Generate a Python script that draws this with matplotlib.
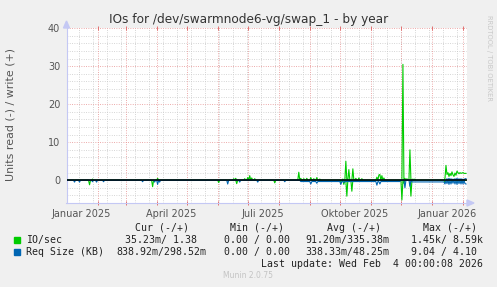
import numpy as np
import matplotlib
matplotlib.use("Agg")
import matplotlib.pyplot as plt
from matplotlib.patches import Rectangle, Polygon

# ---------------- data (day offsets from 2025-01-01) ----------------
start = np.datetime64('2025-01-01')
n_days = 400

# IO/sec write (+)
io_write_days = [26, 91, 167, 169, 178, 181, 183, 185, 188, 232, 234, 237, 240, 244, 247, 250, 253,
                 276, 279, 282, 286, 289, 292, 295, 310, 312, 313, 315, 317, 336, 338, 340, 343, 346, 348,
                 378, 379, 380, 381, 382, 383, 384, 385, 386, 387, 388, 389, 390, 391, 392, 393, 394, 395,
                 396, 397, 398, 399]
io_write_vals = [0.3, 0.5, 0.4, 0.5, 0.4, 0.7, 1.2, 0.6, 0.4, 2.1, 0.5, 0.4, 0.5, 0.7, 0.4, 0.7, 0.3,
                 0.3, 5.0, 2.8, 3.0, 0.5, 0.6, 0.4, 0.8, 1.4, 1.5, 1.2, 0.6, 30.5, 0.5, 0.4, 8.0, 0.3, 0.3,
                 0.5, 3.9, 1.5, 2.0, 1.0, 1.8, 1.2, 2.2, 1.4, 1.0, 1.9, 1.3, 2.4, 2.0, 1.7, 2.0, 1.8, 1.9,
                 2.0, 1.8, 1.8, 1.8]
# IO/sec read (-)
io_read_days = [23, 86, 152, 170, 208, 274, 277, 280, 285, 290, 335, 337, 344, 378, 381, 385, 390, 395]
io_read_vals = [1.2, 1.7, 0.6, 0.9, 0.7, 0.5, 1.1, 4.2, 2.9, 0.3, 5.2, 0.8, 4.2, 0.6, 0.3, 0.3, 0.3, 0.3]

# Req Size write (+)
req_write_days = [380, 382, 384, 386, 388, 390, 392, 394, 396, 398, 399]
req_write_vals = [0.4, 0.5, 0.4, 0.3, 0.4, 0.5, 0.4, 0.4, 0.3, 0.4, 0.4]
# Req Size read (-): individual days
req_read_days = [8, 13, 26, 30, 37, 76, 88, 91, 93, 161, 173, 191, 218,
                 244, 250, 274, 277, 310, 313, 338, 343,
                 378, 380, 382, 384, 386, 388, 390, 392, 394, 396, 398, 399]
req_read_vals = [0.5, 0.5, 0.4, 0.5, 0.4, 0.4, 0.5, 1.1, 0.5, 1.0, 0.5, 0.5, 0.4,
                 1.0, 0.8, 1.1, 0.6, 1.3, 1.0, 2.0, 1.6,
                 1.0, 0.9, 1.1, 1.0, 0.8, 1.0, 1.1, 0.9, 1.0, 1.0, 0.9, 1.0]
# Req Size read (-): steady levels (first day, last day, level)
req_read_level_first = [234, 345]
req_read_level_last = [333, 377]
req_read_level_vals = [0.35, 0.45]

y_ticks = [0, 10, 20, 30, 40]
x_labels = ["Januar 2025", "April 2025", "Juli 2025", "Oktober 2025", "Januar 2026"]
x_label_dates = ['2025-01-16', '2025-04-16', '2025-07-16', '2025-10-16', '2026-01-16']

legend_names = ["IO/sec", "Req Size (KB)"]
legend_cur = ["35.23m/ 1.38", "838.92m/298.52m"]
legend_min = ["0.00 / 0.00", "0.00 / 0.00"]
legend_avg = ["91.20m/335.38m", "338.33m/48.25m"]
legend_max = ["1.45k/ 8.59k", "9.04 / 4.10"]
last_update = "Last update: Wed Feb  4 00:00:08 2026"

GREEN = '#00cc00'
BLUE = '#0066b3'

# ---------------- build daily series ----------------
def daily(days, vals):
    arr = np.zeros(n_days)
    arr[np.array(days)] = vals
    return arr

io_w = daily(io_write_days, io_write_vals)
io_r = daily(io_read_days, io_read_vals)
rq_w = daily(req_write_days, req_write_vals)
rq_r = np.zeros(n_days)
for a, b, v in zip(req_read_level_first, req_read_level_last, req_read_level_vals):
    rq_r[a:b + 1] = v
for d, v in zip(req_read_days, req_read_vals):
    rq_r[d] = v

dates = start + np.arange(n_days).astype('timedelta64[D]')

# ---------------- figure ----------------
W, H = 497, 287
fig = plt.figure(figsize=(W / 100, H / 100), dpi=100, facecolor='#f0f0f0')
L, R, T, B = 66.5, 467, 28.3, 203
ax = fig.add_axes([L / W, 1 - B / H, (R - L) / W, (B - T) / H])
ax.set_facecolor('white')

x0 = start
x1 = start + np.timedelta64(n_days, 'D')
ax.set_xlim(x0, x1)
ax.set_ylim(-6, 40)

# grid
dots = (0, (0.8, 1.6))
MINOR_C = '#cccccc'
MAJOR_C = '#e89494'
for yv in range(-6, 41, 2):
    if yv % 10 == 0:
        continue
    ax.axhline(yv, color=MINOR_C, lw=0.7, ls=dots, zorder=1)
for yv in [10, 20, 30, 40]:
    ax.axhline(yv, color=MAJOR_C, lw=0.7, ls=dots, zorder=1)
minor_v = np.arange(np.datetime64('2025-01-13'), x1, np.timedelta64(14, 'D'))
for d in minor_v:
    ax.axvline(d, color=MINOR_C, lw=0.7, ls=dots, zorder=1)
month_starts = np.arange(np.datetime64('2025-02'), np.datetime64('2026-03'), np.timedelta64(1, 'M')).astype('datetime64[D]')
month_starts = month_starts[month_starts < x1]
for d in month_starts:
    ax.axvline(d, color=MAJOR_C, lw=0.7, ls=dots, zorder=1)

# data lines
ax.plot(dates, io_w, color=GREEN, lw=0.8, zorder=3)
ax.plot(dates, -io_r, color=GREEN, lw=0.8, zorder=3)
ax.plot(dates, rq_w, color=BLUE, lw=0.8, zorder=4)
ax.plot(dates, -rq_r, color=BLUE, lw=0.8, zorder=4)
ax.axhline(0, color='black', lw=1.1, zorder=5)

# axes styling
for s in ['top', 'right']:
    ax.spines[s].set_visible(False)
for s in ['left', 'bottom']:
    ax.spines[s].set_color('#c4c8f4')
    ax.spines[s].set_linewidth(0.8)

ax.set_yticks(y_ticks)
ax.set_yticklabels([str(v) for v in y_ticks], fontsize=7, color='#555555')
ax.tick_params(axis='y', length=0, pad=4.5)

ax.set_xticks([np.datetime64(d) for d in x_label_dates])
ax.set_xticklabels(x_labels, fontsize=7, color='#555555')
ax.set_xticks(month_starts, minor=True)
ax.tick_params(axis='x', which='major', length=0, pad=4)
ax.tick_params(axis='x', which='minor', length=3, width=0.7, color='#e07070',
               direction='inout', top=True)

def fx(px):
    return px / W

def fy(py):
    return 1 - py / H

# arrows
fig.add_artist(Polygon([[fx(63.5), fy(28)], [fx(69.5), fy(28)], [fx(66.5), fy(21)]],
                       closed=True, color='#c4c8f4', transform=fig.transFigure))
fig.add_artist(Polygon([[fx(467), fy(200)], [fx(467), fy(206)], [fx(474), fy(203)]],
                       closed=True, color='#c4c8f4', transform=fig.transFigure))

# title and labels
fig.text(fx(249), fy(19), "IOs for /dev/swarmnode6-vg/swap_1 - by year", ha='center', va='center',
         fontsize=8.7, color='#333333')
fig.text(fx(11), fy(114), "Units read (-) / write (+)", rotation=90, ha='center', va='center',
         fontsize=7.9, color='#555555')
fig.text(fx(488.5), fy(58), "RRDTOOL / TOBI OETIKER", rotation=270, ha='center', va='center',
         fontsize=4.9, color='#c8c8c8')
fig.text(fx(248), fy(276), "Munin 2.0.75", ha='center', va='center', fontsize=5.5, color='#c4c4c4')

# legend
mono = dict(family='DejaVu Sans Mono', fontsize=7.1, color='#222222', va='center')
hy = 227.7
fig.text(fx(135), fy(hy), "Cur (-/+)", **mono)
fig.text(fx(230), fy(hy), "Min (-/+)", **mono)
fig.text(fx(327), fy(hy), "Avg (-/+)", **mono)
fig.text(fx(423), fy(hy), "Max (-/+)", **mono)

rows_y = [240, 252]
colors = [GREEN, BLUE]
cur_x = [125, 116]
avg_x = [305, 305]
for i in range(2):
    y = rows_y[i]
    fig.add_artist(Rectangle((fx(14), fy(y + 3)), 6 / W, 6 / H, color=colors[i],
                             transform=fig.transFigure))
    fig.text(fx(26), fy(y), legend_names[i], **mono)
    fig.text(fx(cur_x[i]), fy(y), legend_cur[i], **mono)
    fig.text(fx(224), fy(y), legend_min[i], **mono)
    fig.text(fx(avg_x[i]), fy(y), legend_avg[i], **mono)
    fig.text(fx(411), fy(y), legend_max[i], **mono)

fig.text(fx(483), fy(264), last_update, ha='right', **mono)

fig.savefig('out.png', dpi=100, facecolor=fig.get_facecolor())
